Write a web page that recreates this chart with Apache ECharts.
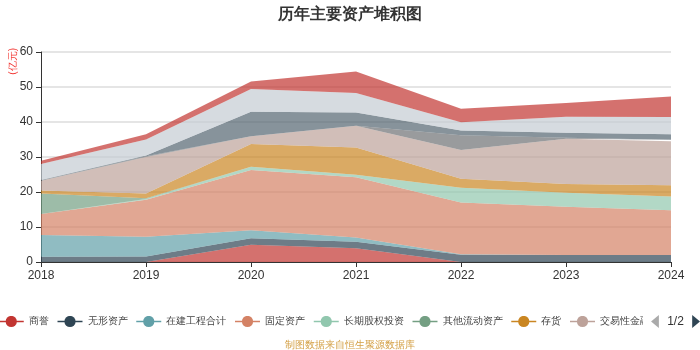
<!DOCTYPE html>
<html>
<head>
<meta charset="utf-8">
<title>历年主要资产堆积图</title>
<script src="https://cdn.jsdelivr.net/npm/echarts@6/dist/echarts.min.js"></script>
<style>
  html, body { margin: 0; padding: 0; background: #fff; }
  #main { width: 700px; height: 350px; }
</style>
</head>
<body>
<div id="main"></div>
<script>
// 年份
const years = ['2018', '2019', '2020', '2021', '2022', '2023', '2024'];

// 各资产项目（亿元），自下而上堆积
const goodwill = [0, 0, 4.9, 3.9, 0, 0, 0];           // 商誉
const intangible = [1.5, 1.6, 1.9, 1.9, 2.1, 2.0, 2.0]; // 无形资产
const construction = [6.2, 5.6, 2.3, 1.2, 0.1, 0, 0];  // 在建工程合计
const fixedAssets = [6.0, 10.6, 17.2, 17.2, 14.8, 13.8, 12.8]; // 固定资产
const equityInvest = [0, 0.2, 0.9, 0.7, 4.2, 4.0, 3.9]; // 长期股权投资
const otherCurrent = [5.9, 0.2, 0, 0, 0, 0, 0];        // 其他流动资产
const inventory = [0.8, 1.4, 6.5, 7.8, 2.6, 2.5, 3.2]; // 存货
const tradingFin = [2.8, 10.4, 2.2, 6.2, 8.2, 12.9, 12.6]; // 交易性金融资产
const notesRecv = [0.1, 0.2, 0, 0, 4.2, 0.3, 0.4];     // 应收票据
const accountsRecv = [0.1, 0.2, 7.0, 3.8, 1.4, 1.4, 1.6]; // 应收账款
const prepayments = [4.6, 4.6, 6.5, 5.6, 2.3, 4.6, 4.9]; // 预付款项
const cash = [0.9, 1.5, 2.2, 6.1, 3.9, 3.9, 5.9];       // 货币资金

const seriesNames = ['商誉', '无形资产', '在建工程合计', '固定资产', '长期股权投资', '其他流动资产',
  '存货', '交易性金融资产', '应收票据', '应收账款', '预付款项', '货币资金'];
const seriesData = [goodwill, intangible, construction, fixedAssets, equityInvest, otherCurrent,
  inventory, tradingFin, notesRecv, accountsRecv, prepayments, cash];

const colors = ['#c23531', '#2f4554', '#61a0a8', '#d48265', '#91c7ae', '#749f83',
  '#ca8622', '#bda29a', '#6e7074', '#546570', '#c4ccd3'];

let myChart = echarts.init(document.getElementById('main'));

let series = [];
for (var i = 0; i < seriesNames.length; i++) {
  series.push({
    name: seriesNames[i],
    type: 'line',
    stack: 'total',
    symbol: 'circle',
    showSymbol: false,
    symbolSize: 8,
    lineStyle: { width: 0 },
    areaStyle: { opacity: 0.7 },
    data: seriesData[i]
  });
}

let option = {
  color: colors,
  animation: false,
  title: {
    text: '历年主要资产堆积图',
    left: 'center',
    top: 2,
    textStyle: { fontSize: 16, fontWeight: 'bold', color: '#333' }
  },
  graphic: [{
    type: 'text',
    left: 8,
    top: 48,
    rotation: Math.PI / 2,
    style: { text: '(亿元)', fill: '#f23a36', fontSize: 10 }
  }, {
    type: 'text',
    left: 'center',
    top: 340,
    style: { text: '制图数据来自恒生聚源数据库', fill: '#d4a046', fontSize: 10 }
  }],
  legend: {
    type: 'scroll',
    bottom: 17,
    left: -7,
    right: -1,
    padding: [5, 0, 5, 5],
    itemGap: 8,
    itemWidth: 25,
    itemHeight: 14,
    textStyle: { fontSize: 10, color: '#444' },
    lineStyle: { width: 1.5 },
    pageButtonItemGap: 3,
    pageIconColor: '#2f4554',
    pageIconInactiveColor: '#aaa',
    pageIconSize: 13,
    pageTextStyle: { color: '#333', fontSize: 12 }
  },
  grid: {
    left: 41,
    right: 29,
    top: 52,
    bottom: 88
  },
  xAxis: {
    type: 'category',
    boundaryGap: false,
    data: years,
    axisLine: { lineStyle: { color: '#333' } },
    axisTick: { show: true },
    axisLabel: { color: '#333', fontSize: 12 }
  },
  yAxis: {
    type: 'value',
    min: 0,
    max: 60,
    interval: 10,
    axisLine: { show: true, lineStyle: { color: '#333' } },
    axisTick: { show: true },
    axisLabel: { color: '#333', fontSize: 12 },
    splitLine: { lineStyle: { color: '#ddd', width: 1.5 } }
  },
  series: series
};

myChart.setOption(option);
</script>
</body>
</html>
